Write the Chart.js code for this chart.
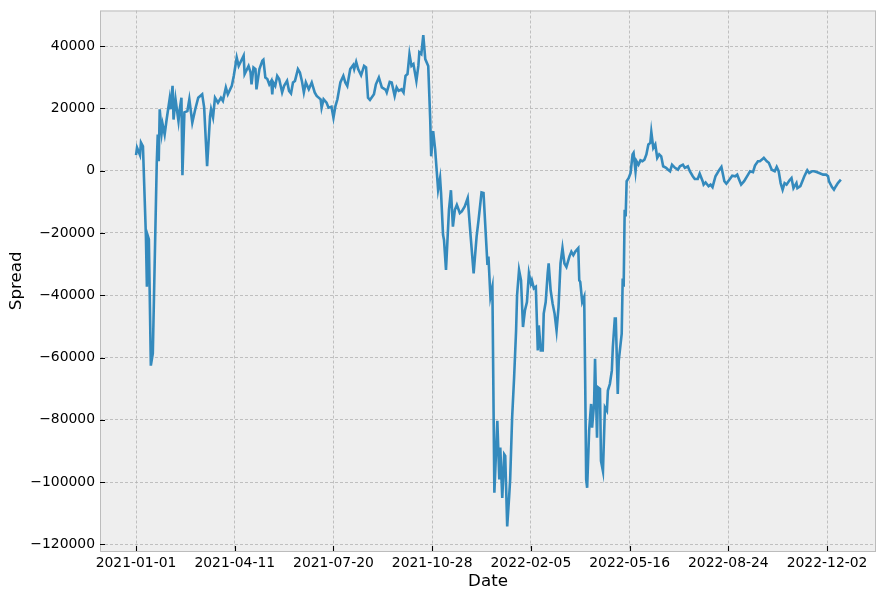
<!DOCTYPE html>
<html>
<head>
<meta charset="utf-8">
<script src="https://cdn.jsdelivr.net/npm/chart.js@4.4.1/dist/chart.umd.min.js"></script>
<style>
  html, body { margin: 0; padding: 0; background: #fff; }
  #wrap { width: 885px; height: 598px; }
</style>
</head>
<body>
<div id="wrap"><canvas id="spreadChart"></canvas></div>
<script>
// days since 2021-01-01 and the spread at that day
const startDate = "2021-01-01";
const days = [
    0, 1, 4, 5, 7, 10, 11, 12, 13, 15,
    17, 21, 22, 23, 24, 26, 27, 29, 31, 34,
    35, 37, 38, 40, 43, 44, 46, 47, 49, 52,
    54, 57, 60, 63, 67, 69, 72, 75, 76, 78,
    80, 83, 86, 88, 91, 93, 97, 99, 102, 104,
    109, 110, 114, 116, 117, 119, 121, 122, 125, 128,
    129, 131, 133, 135, 137, 138, 139, 141, 143, 145,
    148, 150, 153, 155, 157, 159, 161, 164, 166, 168,
    170, 172, 175, 178, 181, 183, 187, 188, 190, 193,
    195, 198, 200, 202, 204, 207, 210, 212, 214, 217,
    220, 221, 223, 225, 228, 231, 233, 235, 237, 241,
    243, 246, 249, 253, 254, 257, 259, 262, 264, 266,
    269, 271, 273, 275, 277, 279, 281, 284, 286, 287,
    289, 291, 293, 296, 298, 299, 301, 303, 306, 308,
    309, 311, 312, 314, 317, 319, 321, 323, 325, 328,
    330, 333, 336, 339, 342, 345, 347, 350, 352, 356,
    357, 359, 361, 363, 366, 368, 369, 371, 373, 374,
    376, 378, 379, 381, 383, 385, 386, 388, 390, 392,
    394, 396, 398, 400, 401, 403, 405, 407, 408, 410,
    412, 413, 415, 417, 418, 420, 422, 424, 426, 428,
    430, 432, 434, 436, 439, 441, 443, 445, 448, 449,
    450, 452, 454, 455, 456, 457, 459, 461, 462, 464,
    465, 467, 468, 470, 471, 473, 475, 477, 478, 480,
    482, 483, 485, 486, 488, 489, 492, 493, 494, 495,
    496, 497, 499, 501, 503, 504, 506, 507, 509, 511,
    513, 515, 517, 519, 521, 522, 524, 526, 528, 530,
    532, 534, 537, 539, 541, 543, 546, 549, 551, 554,
    556, 559, 561, 564, 566, 569, 571, 574, 575, 577,
    580, 582, 584, 587, 591, 593, 596, 598, 601, 604,
    607, 609, 611, 613, 616, 620, 622, 625, 627, 630,
    632, 635, 636, 639, 641, 644, 647, 649, 651, 653,
    655, 657, 659, 662, 664, 666, 669, 670, 673, 675,
    677, 680, 682, 685, 687, 690, 692, 696, 699, 701,
    702, 705, 707, 709, 711, 714
];
const spread = [
    5000, 7400, 5000, 9000, 7800, -21000, -37300, -21000, -22000, -62600,
    -58700, 2600, 11600, 3000, 19700, 12200, 14800, 11600, 16400, 22900,
    19700, 27200, 16400, 22900, 15900, 19100, 23400, -1500, 18700, 19100,
    22900, 15400, 19700, 23400, 24500, 20300, 1400, 17500, 19700, 17100,
    23400, 21800, 23400, 22400, 26700, 24500, 27200, 30400, 36300, 33600,
    36900, 31000, 33600, 31500, 27700, 33100, 32600, 26100, 32600, 35300,
    35600, 29900, 29400, 27700, 28800, 24500, 28300, 27200, 30400, 29400,
    25100, 27200, 28800, 25600, 24800, 28300, 28800, 32600, 31500, 28800,
    25100, 28300, 26100, 28300, 25100, 24000, 22900, 20200, 22900, 21800,
    20200, 20500, 17000, 20700, 22900, 28300, 30400, 28300, 27200, 32600,
    33900, 32600, 34900, 32600, 30600, 33600, 33100, 23400, 22700, 24500,
    27700, 29900, 26700, 25900, 25100, 28500, 28300, 24000, 26700, 25600,
    26100, 25100, 30400, 31000, 37400, 33600, 34200, 28800, 33600, 38000,
    37400, 43500, 35800, 33600, 16500, 4600, 12700, 6800, -6100, -2400,
    -7200, -20600, -22300, -31900, -12600, -6300, -18000, -12600, -11000, -13600,
    -13100, -11500, -8800, -21200, -33000, -21200, -15800, -7000, -7200, -30300,
    -27600, -40500, -37300, -103400, -80300, -99100, -88900, -105100, -91100, -91600,
    -114200, -104500, -99100, -79300, -66400, -51300, -40000, -31900, -35200, -50200,
    -44800, -42200, -33000, -36200, -35200, -37800, -37300, -57700, -49700, -57700,
    -57700, -45900, -42200, -33000, -29800, -38400, -42700, -45900, -51300, -43800,
    -29800, -24900, -29800, -30900, -27600, -26000, -27100, -26000, -24900, -35200,
    -35700, -42200, -40500, -67400, -99100, -101800, -83500, -74900, -82500, -74900,
    -60400, -85700, -69600, -70100, -93200, -96500, -76000, -77100, -70600, -68500,
    -64200, -56700, -47500, -47500, -71700, -61000, -52300, -34600, -37300, -12600,
    -14700, -3400, -2400, -750, 5200, 5700, -200, 3000, 1900, 3300,
    3000, 3500, 5200, 8400, 8900, 12400, 7300, 8400, 4100, 5200,
    4600, 1400, 900, 300, -200, 1900, 900, 300, 1400, 1900,
    900, 1400, -200, -1800, -2700, -2700, -1000, -3400, -4500, -3800,
    -5000, -4500, -5300, -1800, 300, 1200, -3400, -4200, -2900, -1600,
    -1800, -1300, -2900, -4500, -3400, -1300, -200, -500, 1600, 3000,
    3000, 3800, 4100, 3000, 2500, 300, -200, 1200, -200, -4000,
    -6100, -4000, -4500, -3100, -2400, -5600, -4000, -5600, -5000, -3400,
    -1800, 100, -750, -200, -200, -500, -750, -1300, -1300, -1800,
    -3400, -5300, -6100, -5000, -4000, -2900
];
const xTickLabels = ["2021-01-01", "2021-04-11", "2021-07-20", "2021-10-28",
                     "2022-02-05", "2022-05-16", "2022-08-24", "2022-12-02"];
const yTickValues = [-120000, -100000, -80000, -60000, -40000, -20000, 0, 20000, 40000];

function dayOffset(s) {
    return (Date.parse(s + "T00:00:00Z") - Date.parse(startDate + "T00:00:00Z")) / 86400000;
}
const xTickDays = xTickLabels.map(dayOffset);

function formatY(v) {
    return v < 0 ? "\u2212" + Math.abs(v) : String(v);
}

// bmh look: grey panel, grey frame, ticks pointing inwards
const bmhPanel = {
    id: "bmhPanel",
    beforeDraw(chart) {
        const { ctx, chartArea: a } = chart;
        ctx.save();
        ctx.fillStyle = "#eeeeee";
        ctx.fillRect(a.left, a.top, a.right - a.left, a.bottom - a.top);
        ctx.restore();
    },
    afterDraw(chart) {
        const { ctx, chartArea: a, scales } = chart;
        ctx.save();
        ctx.strokeStyle = "#bcbcbc";
        ctx.lineWidth = 1;
        ctx.strokeRect(a.left + 0.5, a.top + 0.5, a.right - a.left - 1, a.bottom - a.top);
        ctx.strokeStyle = "#000";
        ctx.lineWidth = 1.1;
        ctx.beginPath();
        scales.x.ticks.forEach(t => {
            const px = Math.round(scales.x.getPixelForValue(t.value)) + 0.5;
            ctx.moveTo(px, a.bottom);
            ctx.lineTo(px, a.bottom - 5);
        });
        scales.y.ticks.forEach(t => {
            const py = Math.round(scales.y.getPixelForValue(t.value)) + 0.5;
            ctx.moveTo(a.left, py);
            ctx.lineTo(a.left + 5, py);
        });
        ctx.stroke();
        ctx.restore();
    }
};

Chart.defaults.font.family = "'DejaVu Sans', sans-serif";
Chart.defaults.color = "#000";

new Chart(document.getElementById("spreadChart"), {
    type: "line",
    data: {
        datasets: [{
            data: days.map((d, i) => ({ x: d, y: spread[i] })),
            borderColor: "#348ABD",
            borderWidth: 2.6,
            pointRadius: 0,
            tension: 0,
            fill: false
        }]
    },
    options: {
        responsive: true,
        maintainAspectRatio: false,
        animation: false,
        events: [],
        layout: { padding: { top: 10.5, right: 9, left: 0, bottom: 0 } },
        plugins: {
            legend: { display: false },
            tooltip: { enabled: false }
        },
        scales: {
            x: {
                type: "linear",
                min: -36.5,
                max: 749.6,
                afterBuildTicks: scale => {
                    scale.ticks = xTickDays.map(v => ({ value: v }));
                },
                afterFit: scale => {
                    scale.height = 47;
                    scale.paddingLeft = 0;
                    scale.paddingRight = 0;
                },
                ticks: {
                    font: { size: 13.9 },
                    padding: 4,
                    maxRotation: 0,
                    autoSkip: false,
                    callback: v => xTickLabels[xTickDays.indexOf(v)]
                },
                grid: {
                    color: "#b2b2b2",
                    lineWidth: 0.8,
                    drawTicks: false
                },
                border: { display: false, dash: [3, 2] },
                title: {
                    display: true,
                    text: "Date",
                    font: { size: 16.7 },
                    padding: { top: 0, bottom: 6 }
                }
            },
            y: {
                type: "linear",
                min: -122100,
                max: 51400,
                afterBuildTicks: scale => {
                    scale.ticks = yTickValues.map(v => ({ value: v }));
                },
                afterFit: scale => {
                    scale.width = 100;
                    scale.paddingTop = 0;
                    scale.paddingBottom = 0;
                },
                ticks: {
                    font: { size: 13.9 },
                    padding: 5,
                    autoSkip: false,
                    callback: v => formatY(v)
                },
                grid: {
                    color: "#b2b2b2",
                    lineWidth: 0.8,
                    drawTicks: false
                },
                border: { display: false, dash: [3, 2] },
                title: {
                    display: true,
                    text: "Spread",
                    font: { size: 16.7 },
                    padding: { top: 7, bottom: 0 }
                }
            }
        }
    },
    plugins: [bmhPanel]
});
</script>
</body>
</html>
